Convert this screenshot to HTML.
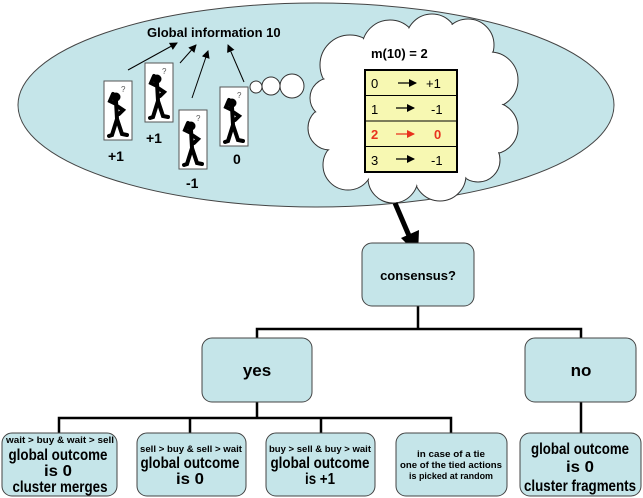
<!DOCTYPE html>
<html><head><meta charset="utf-8"><style>
html,body{margin:0;padding:0;background:#fff;}
svg{display:block;font-family:"Liberation Sans",Arial,sans-serif;}
</style></head><body>
<svg width="643" height="498" viewBox="0 0 643 498" xmlns="http://www.w3.org/2000/svg">
<defs>
<marker id="ah" markerWidth="8" markerHeight="8" refX="7" refY="4" orient="auto" markerUnits="userSpaceOnUse"><path d="M0,0 L8,4 L0,8 z" fill="#000"/></marker>
<marker id="ahr" markerWidth="8" markerHeight="8" refX="7" refY="4" orient="auto" markerUnits="userSpaceOnUse"><path d="M0,0 L8,4 L0,8 z" fill="#e8321e"/></marker>
<g id="fig">
<rect x="0" y="0" width="28" height="59" fill="#fff" stroke="#555" stroke-width="1"/>
<text x="17" y="11" font-size="8" fill="#555">?</text>
<circle cx="12" cy="16" r="4.5" fill="#000"/>
<path d="M12,20 L13,38 M13,38 L8,54 L5,55 M13,38 L18,53 L23,54 M12,23 L6,20 L9,13 M13,25 L19,29 L15,33" stroke="#000" stroke-width="4" fill="none" stroke-linecap="round"/>
</g>
</defs>
<ellipse cx="316" cy="105" rx="298" ry="102" fill="#c5e5e9" stroke="#444" stroke-width="1"/>
<text x="147" y="37" font-size="13" font-weight="bold">Global information 10</text>
<g stroke="#000" stroke-width="1" marker-end="url(#ah)">
<line x1="128" y1="70" x2="177" y2="43"/>
<line x1="180" y1="63" x2="196" y2="45"/>
<line x1="192" y1="98" x2="208" y2="51"/>
<line x1="244" y1="82" x2="228" y2="45"/>
</g>
<use href="#fig" x="104" y="81"/>
<use href="#fig" x="145" y="63"/>
<use href="#fig" x="179" y="110"/>
<use href="#fig" x="220" y="87"/>
<g font-size="14" font-weight="bold">
<text x="108" y="161">+1</text>
<text x="146" y="143">+1</text>
<text x="186" y="188">-1</text>
<text x="233" y="164">0</text>
</g>
<g fill="#fff" stroke="#333" stroke-width="1">
<circle cx="256" cy="87" r="6"/>
<circle cx="271" cy="86" r="9"/>
<circle cx="292" cy="86" r="12"/>
</g>
<g stroke="#333" stroke-width="1" fill="#fff">
<circle cx="350" cy="65" r="30"/>
<circle cx="390" cy="48" r="28"/>
<circle cx="432" cy="40" r="26"/>
<circle cx="468" cy="45" r="26"/>
<circle cx="490" cy="80" r="28"/>
<circle cx="492" cy="128" r="26"/>
<circle cx="478" cy="160" r="22"/>
<circle cx="440" cy="175" r="26"/>
<circle cx="393" cy="178" r="25"/>
<circle cx="348" cy="165" r="25"/>
<circle cx="330" cy="128" r="22"/>
<circle cx="330" cy="98" r="20"/>
</g>
<g fill="#fff">
<circle cx="350" cy="65" r="29"/><circle cx="390" cy="48" r="27"/><circle cx="432" cy="40" r="25"/><circle cx="468" cy="45" r="25"/><circle cx="490" cy="80" r="27"/><circle cx="492" cy="128" r="25"/><circle cx="478" cy="160" r="21"/><circle cx="440" cy="175" r="25"/><circle cx="393" cy="178" r="24"/><circle cx="348" cy="165" r="24"/><circle cx="330" cy="128" r="21"/><circle cx="330" cy="98" r="19"/>
<ellipse cx="410" cy="112" rx="80" ry="70"/>
</g>
<text x="371" y="58" font-size="13" font-weight="bold">m(10) = 2</text>
<rect x="365" y="70" width="92" height="102" fill="#f7f8b2" stroke="#000" stroke-width="2"/>
<g stroke="#000" stroke-width="1"><line x1="365" y1="95.5" x2="457" y2="95.5"/><line x1="365" y1="121" x2="457" y2="121"/><line x1="365" y1="146.5" x2="457" y2="146.5"/></g>
<g font-size="13">
<text x="371" y="88">0</text><text x="426" y="88">+1</text>
<text x="371" y="114">1</text><text x="431" y="114">-1</text>
<text x="371" y="165">3</text><text x="431" y="165">-1</text>
<text x="371" y="139" fill="#e8321e" font-weight="bold">2</text><text x="434" y="139" fill="#e8321e" font-weight="bold">0</text>
</g>
<g stroke="#000" stroke-width="1.2" marker-end="url(#ah)">
<line x1="398" y1="83" x2="416" y2="83"/><line x1="396" y1="108" x2="414" y2="108"/><line x1="396" y1="159" x2="414" y2="159"/>
</g>
<line x1="396" y1="134" x2="414" y2="134" stroke="#e8321e" stroke-width="1.2" marker-end="url(#ahr)"/>
<line x1="395" y1="203" x2="410" y2="238" stroke="#000" stroke-width="5"/>
<path d="M401,238 L419,230 L418,255 z" fill="#000"/>
<g stroke="#000" stroke-width="2.5" fill="none">
<path d="M418,306 V329 M257,338 V329 H581 V338"/>
<path d="M257,402 V418 M59,433 V418 H451 V433 M190,418 V433 M321,418 V433"/>
<path d="M581,402 V433"/>
</g>
<g fill="#c5e5e9" stroke="#444" stroke-width="1">
<rect x="362" y="243" width="112" height="63" rx="10"/>
<rect x="202" y="338" width="110" height="64" rx="10"/>
<rect x="525" y="338" width="111" height="64" rx="10"/>
<rect x="2" y="433" width="115" height="63" rx="10"/>
<rect x="137" y="433" width="109" height="63" rx="10"/>
<rect x="266" y="433" width="109" height="63" rx="10"/>
<rect x="396" y="433" width="111" height="63" rx="10"/>
<rect x="520" y="433" width="121" height="63" rx="10"/>
</g>
<g font-weight="bold" text-anchor="middle" lengthAdjust="spacingAndGlyphs">
<text x="418" y="280" font-size="13">consensus?</text>
<text x="257" y="376" font-size="17">yes</text>
<text x="581" y="376" font-size="17">no</text>
<text x="60" y="443" font-size="9.5" textLength="108" lengthAdjust="spacingAndGlyphs">wait &gt; buy &amp; wait &gt; sell</text>
<text x="58" y="460" font-size="16" textLength="99" lengthAdjust="spacingAndGlyphs">global outcome</text>
<text x="58" y="476" font-size="16" textLength="28" lengthAdjust="spacingAndGlyphs">is 0</text>
<text x="60" y="492" font-size="16" textLength="95" lengthAdjust="spacingAndGlyphs">cluster merges</text>
<text x="191" y="452" font-size="9.5" textLength="102" lengthAdjust="spacingAndGlyphs">sell &gt; buy &amp; sell &gt; wait</text>
<text x="190" y="468" font-size="16" textLength="99" lengthAdjust="spacingAndGlyphs">global outcome</text>
<text x="190" y="484" font-size="16" textLength="28" lengthAdjust="spacingAndGlyphs">is 0</text>
<text x="320" y="452" font-size="9.5" textLength="102" lengthAdjust="spacingAndGlyphs">buy &gt; sell &amp; buy &gt; wait</text>
<text x="320" y="468" font-size="16" textLength="99" lengthAdjust="spacingAndGlyphs">global outcome</text>
<text x="320" y="484" font-size="16" textLength="30" lengthAdjust="spacingAndGlyphs">is +1</text>
<text x="451" y="457" font-size="9.5" textLength="68" lengthAdjust="spacingAndGlyphs">in case of a tie</text>
<text x="451" y="468" font-size="9.5" textLength="102" lengthAdjust="spacingAndGlyphs">one of the tied actions</text>
<text x="451" y="479" font-size="9.5" textLength="84" lengthAdjust="spacingAndGlyphs">is picked at random</text>
<text x="580" y="454" font-size="16" textLength="98" lengthAdjust="spacingAndGlyphs">global outcome</text>
<text x="580" y="472" font-size="16" textLength="28" lengthAdjust="spacingAndGlyphs">is 0</text>
<text x="580" y="491" font-size="16" textLength="112" lengthAdjust="spacingAndGlyphs">cluster fragments</text>
</g>
</svg>
</body></html>
